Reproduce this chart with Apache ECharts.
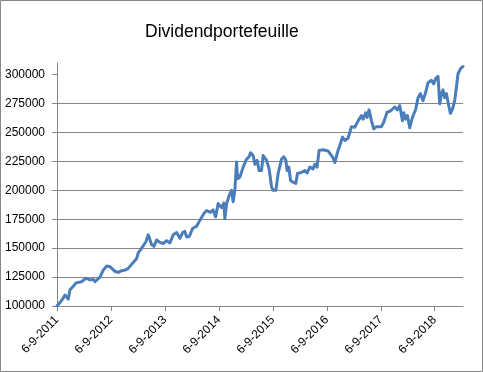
<!DOCTYPE html>
<html>
<head>
<meta charset="utf-8">
<script src="https://cdn.jsdelivr.net/npm/echarts@6/dist/echarts.min.js"></script>
<style>
html,body{margin:0;padding:0;background:#fff;}
#c{width:483px;height:372px;}
</style>
</head>
<body>
<div id="c"></div>
<script>
// Years elapsed since 6-9-2011 for each observation
const yearsSinceStart = [0,0.056,0.111,0.148,0.176,0.209,0.241,0.302,0.352,0.457,0.537,0.611,0.672,0.704,0.796,0.857,0.920,0.981,1.074,1.135,1.198,1.259,1.320,1.383,1.476,1.506,1.569,1.648,1.691,1.754,1.796,1.846,1.907,1.969,2.031,2.093,2.154,2.217,2.278,2.328,2.370,2.402,2.450,2.513,2.587,2.648,2.722,2.772,2.846,2.894,2.939,2.987,3.050,3.093,3.111,3.143,3.191,3.235,3.265,3.296,3.328,3.346,3.389,3.450,3.513,3.561,3.587,3.635,3.667,3.709,3.746,3.791,3.820,3.883,3.931,3.976,4.006,4.056,4.098,4.161,4.204,4.241,4.265,4.296,4.328,4.376,4.426,4.457,4.531,4.593,4.635,4.685,4.746,4.778,4.820,4.857,4.931,5.024,5.087,5.117,5.148,5.209,5.241,5.291,5.333,5.394,5.457,5.519,5.580,5.643,5.672,5.722,5.746,5.783,5.828,5.870,5.920,6.013,6.056,6.117,6.180,6.217,6.259,6.309,6.352,6.383,6.402,6.426,6.463,6.494,6.537,6.587,6.648,6.691,6.735,6.783,6.833,6.876,6.939,6.981,7.019,7.061,7.093,7.124,7.154,7.185,7.217,7.265,7.291,7.328,7.370,7.402,7.431,7.476,7.524];
const portfolioValue = [100000,103000,106500,109500,110000,106000,114000,117000,120000,121000,124000,122500,123000,121000,125000,131000,134500,134000,130000,129000,130500,131000,132500,136000,141000,146000,150000,155500,161500,153000,151500,157000,155000,154000,156500,154500,161500,163500,158500,163500,164500,159700,160000,167000,169000,174000,180000,182500,181000,183000,177000,188500,185000,189000,175500,188500,195500,200000,190000,200000,224500,210000,211500,220000,227000,229000,232500,230000,222500,226000,217000,217000,230000,226000,218500,203000,200000,200000,214500,227000,229000,226000,217000,220000,208500,207000,206000,214500,215500,217000,215000,220000,218500,222500,220000,234500,235000,234000,230000,228000,224000,234500,238800,246000,243000,245000,255000,254500,260000,264500,261500,267000,263000,269500,260000,253000,255000,255000,259000,267500,268500,268000,272000,269500,273300,275000,260000,267000,261500,264500,254000,263000,270000,280000,283500,277500,284700,293000,295000,292000,296500,298500,274700,283500,286800,280000,283500,272000,266500,270000,277500,289000,300500,305000,307000];
const xTickValues = [0,1,2,3,4,5,6,7];
const xTickLabels = ['6-9-2011','6-9-2012','6-9-2013','6-9-2014','6-9-2015','6-9-2016','6-9-2017','6-9-2018'];
const yTickValues = [100000,125000,150000,175000,200000,225000,250000,275000,300000];
const titleText = 'Dividendportefeuille';

const chart = echarts.init(document.getElementById('c'), null, {renderer:'canvas'});
const gray = '#868686';
const font = 'Liberation Sans';
chart.setOption({
  animation: false,
  backgroundColor: '#fff',
  title: {
    text: titleText, left: 145, top: 23,
    padding: 0,
    textStyle: {fontFamily: font, fontSize: 17.5, fontWeight: 'normal', color: '#000'}
  },
  graphic: [{
    type: 'rect', shape: {x: 0.5, y: 0.5, width: 482, height: 371},
    style: {fill: null, stroke: gray, lineWidth: 1}, silent: true, z: 100
  }],
  grid: {left: 57, right: 20, top: 63, bottom: 66, containLabel: false},
  xAxis: {
    type: 'value', min: 0, max: 7.524,
    axisLine: {show: true, lineStyle: {color: gray, width: 1}},
    axisTick: {show: true, length: 5, inside: false, customValues: xTickValues, lineStyle: {color: gray}},
    axisLabel: {
      customValues: xTickValues, rotate: 45, margin: 12,
      fontFamily: font, fontSize: 12, color: '#000',
      formatter: v => xTickLabels[Math.round(v)]
    },
    splitLine: {show: false}
  },
  yAxis: {
    type: 'value', min: 100000, max: 310000,
    axisLine: {show: true, lineStyle: {color: gray, width: 1}},
    axisTick: {show: true, length: 5, customValues: yTickValues, lineStyle: {color: gray}},
    axisLabel: {customValues: yTickValues, margin: 12, fontFamily: font, fontSize: 12, color: '#000',
      formatter: v => String(v)},
    splitLine: {show: true, showMaxLine: false, lineStyle: {color: gray, width: 1}}
  },
  series: [{
    type: 'line',
    data: yearsSinceStart.map((t, i) => [t, portfolioValue[i]]),
    showSymbol: false, symbol: 'none',
    lineStyle: {color: '#4a7ebb', width: 3, join: 'round', cap: 'round'},
    itemStyle: {color: '#4a7ebb'}
  }]
});
</script>
</body>
</html>
